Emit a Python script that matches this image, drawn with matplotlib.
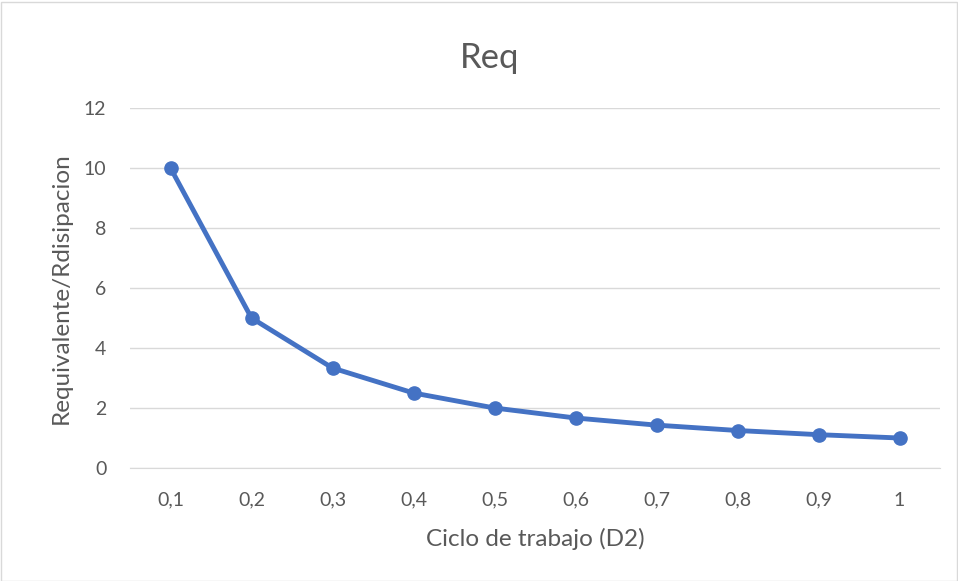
import matplotlib
matplotlib.use("Agg")
import matplotlib.pyplot as plt
from matplotlib.patches import Rectangle

categories = ["0,1", "0,2", "0,3", "0,4", "0,5", "0,6", "0,7", "0,8", "0,9", "1"]
values = [10, 5, 3.333, 2.5, 2, 1.667, 1.429, 1.25, 1.111, 1]
yticks = [0, 2, 4, 6, 8, 10, 12]

plt.rcParams['font.family'] = ['Lato', 'DejaVu Sans']
txt = '#595959'

fig = plt.figure(figsize=(9.58, 5.81), dpi=100)
ax = fig.add_axes([130/958, 1-468/581, (940-130)/958, (468-108)/581])

x = list(range(len(categories)))
ax.plot(x, values, color='#4472C4', linewidth=3.5, marker='o', markersize=9.5,
        solid_capstyle='round', solid_joinstyle='round', zorder=3)

ax.set_xlim(-0.5, len(categories)-0.5)
ax.set_ylim(0, 12)
ax.set_yticks(yticks)
ax.set_yticklabels([str(v) for v in yticks], color=txt, fontsize=14)
ax.set_xticks(x)
ax.set_xticklabels(categories, color=txt, fontsize=14)
ax.tick_params(axis='x', length=0, pad=17)
ax.tick_params(axis='y', length=0, pad=17)
ax.grid(axis='y', color='#D9D9D9', linewidth=1)
ax.set_axisbelow(True)
for s in ['top', 'right', 'left']:
    ax.spines[s].set_visible(False)
ax.spines['bottom'].set_color('#D9D9D9')

ax.set_xlabel('Ciclo de trabajo (D2)', color=txt, fontsize=17.5, labelpad=14)
ax.set_ylabel('Requivalente/Rdisipacion', color=txt, fontsize=17.5, labelpad=9)
fig.text(490/958, 1-58/581, 'Req', ha='center', va='center', color=txt, fontsize=25)

fig.patches.append(Rectangle((0.5/958, 0.5/581), 1-2/958, 1-2/581, transform=fig.transFigure,
                             fill=False, edgecolor='#D9D9D9', linewidth=1))
fig.savefig('out.png', dpi=100)
